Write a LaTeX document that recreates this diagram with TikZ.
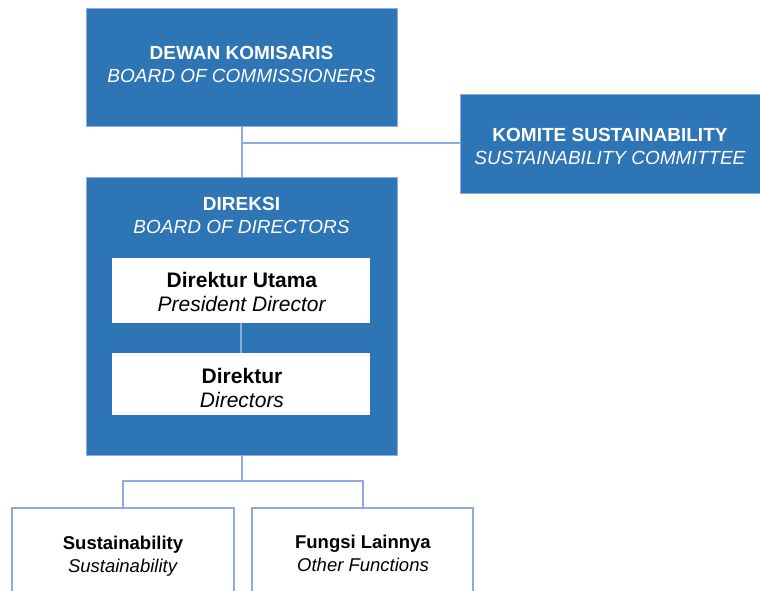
\documentclass[tikz,border=0pt]{standalone}
\usepackage{fontspec}
\setmainfont{Liberation Sans}
\definecolor{boxblue}{HTML}{2E75B6}
\definecolor{linkblue}{HTML}{8FAADC}
\begin{document}
\begin{tikzpicture}[x=1pt,y=-1pt,
  bluebox/.style={draw=linkblue,line width=0.8pt,fill=boxblue,inner sep=0pt,rectangle},
  whitebox/.style={fill=white,draw=none,inner sep=0pt,rectangle},
  unitbox/.style={fill=white,draw=linkblue,line width=2pt,inner sep=0pt,rectangle},
  link/.style={draw=linkblue,line width=2pt},
  headtxt/.style={text=white,align=center,font=\fontsize{19}{23}\selectfont},
  innertxt/.style={text=black,align=center,font=\fontsize{21}{24}\selectfont},
  unittxt/.style={text=black,align=center,font=\fontsize{18.5}{23}\selectfont}]
\useasboundingbox (0,0) rectangle (760,591);
\clip (0,0) rectangle (760,591);
% boxes
\node[bluebox,minimum width=311pt,minimum height=118pt] (dk) at (241.5,67) {};
\node[bluebox,minimum width=300pt,minimum height=99pt] (kom) at (610,143.5) {};
\node[bluebox,minimum width=311pt,minimum height=278pt] (dir) at (241.5,316) {};
\node[whitebox,minimum width=258pt,minimum height=65pt] (du) at (241,290.5) {};
\node[whitebox,minimum width=258pt,minimum height=62pt] (dr) at (241,384) {};
\node[unitbox,minimum width=222pt,minimum height=110pt] (sus) at (123,563) {};
\node[unitbox,minimum width=221pt,minimum height=110pt] (fun) at (362.5,563) {};
% connectors
\coordinate (j1) at (dk.south |- kom.west);
\draw[link] (dk.south) -- (dir.north);
\draw[link] (j1) -- (kom.west);
\draw[link] (du.south) -- (dr.north);
\coordinate (j2) at ([yshift=-26pt]dir.south);
\draw[link] (dir.south) -- (j2) -| (sus.north);
\draw[link] (j2) -| (fun.north);
% texts
\node[headtxt] (tdk) at (241.5,64.5) {\textbf{DEWAN KOMISARIS}\\\textit{BOARD OF COMMISSIONERS}};
\node[headtxt] (tkom) at (610,146.5) {\textbf{KOMITE SUSTAINABILITY}\\\textit{SUSTAINABILITY COMMITTEE}};
\node[headtxt] (tdir) at (241.5,215.5) {\textbf{DIREKSI}\\\textit{BOARD OF DIRECTORS}};
\node[innertxt] (tdu) at (242,292) {\textbf{Direktur Utama}\\\textit{President Director}};
\node[innertxt] (tdr) at (242,387.5) {\textbf{Direktur}\\\textit{Directors}};
\node[unittxt] (tsus) at (123,556) {\textbf{Sustainability}\\\textit{Sustainability}};
\node[unittxt] (tfun) at (363,553) {\textbf{Fungsi Lainnya}\\\textit{Other Functions}};
\end{tikzpicture}
\end{document}
